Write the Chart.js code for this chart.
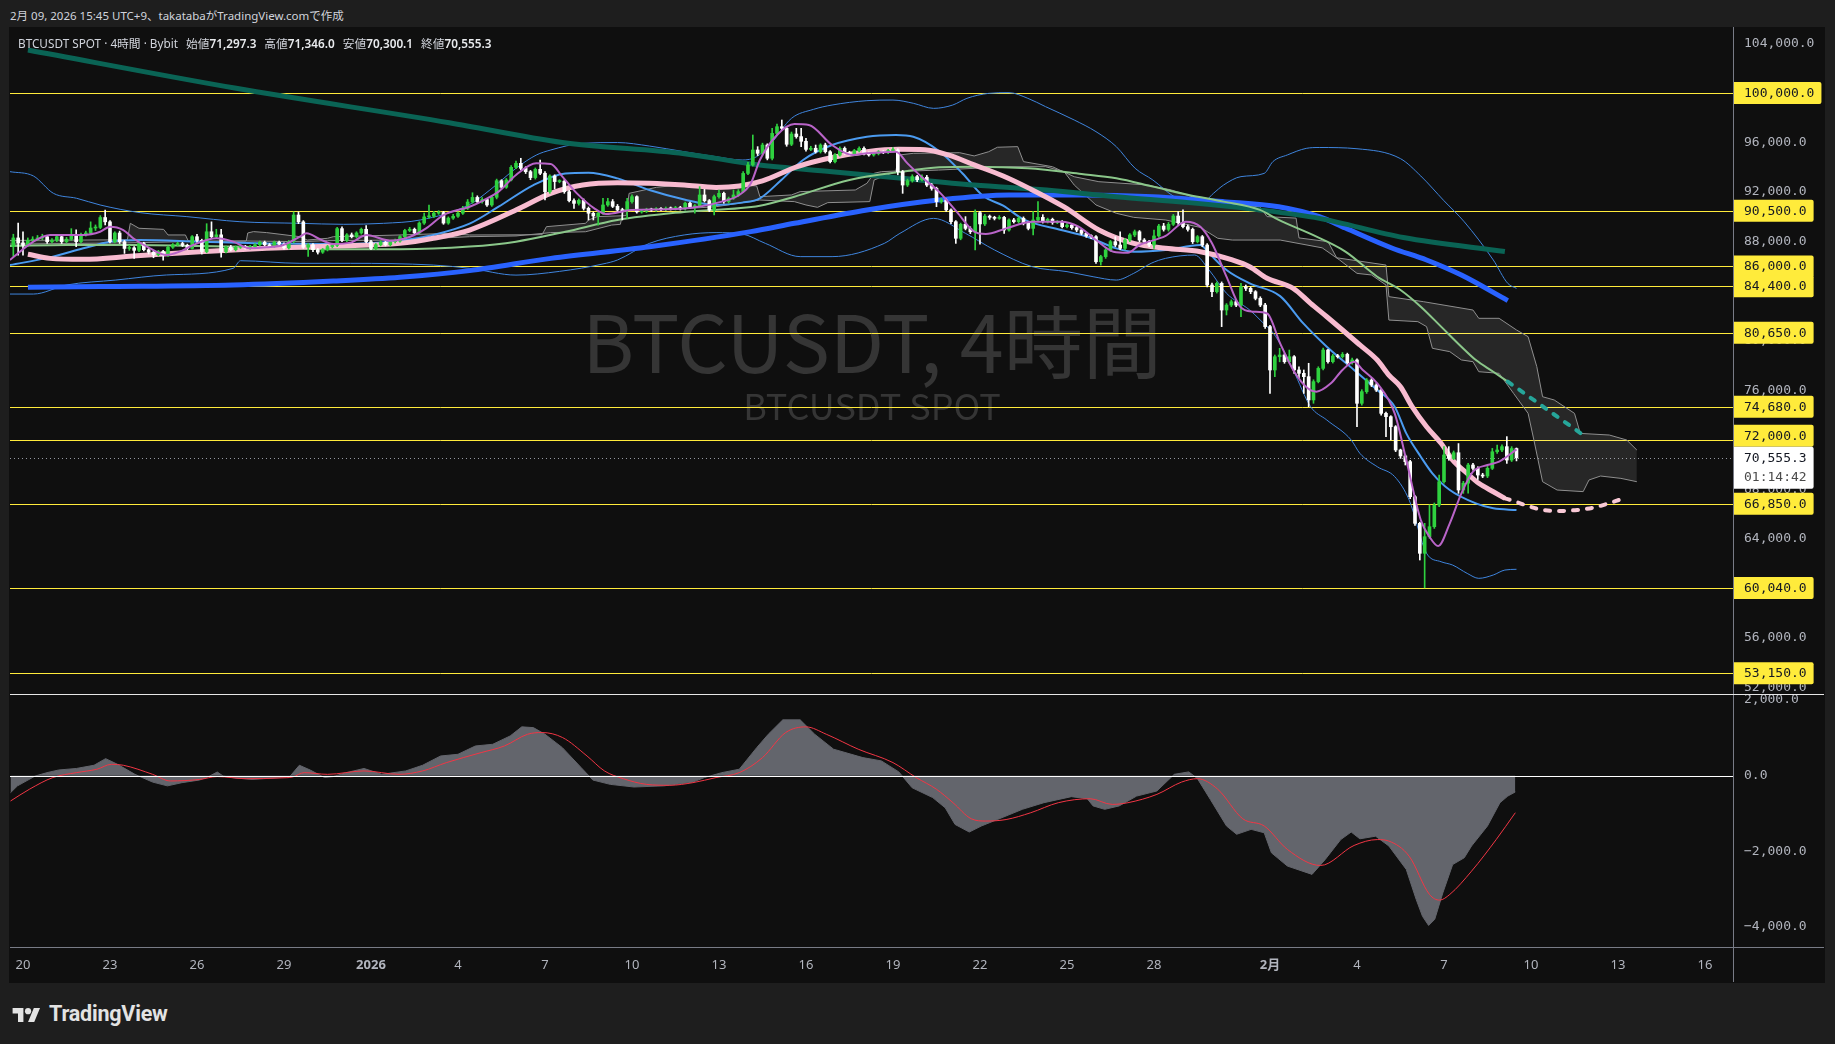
<!DOCTYPE html>
<html>
<head>
<meta charset="utf-8">
<title>BTCUSDT 4時間</title>
<script src="https://cdn.jsdelivr.net/npm/chart.js@4.4.1/dist/chart.umd.min.js"></script>
<style>
    html, body { margin: 0; padding: 0; width: 1835px; height: 1044px; background: #1e1e1e; overflow: hidden; }
    #hdr { position: absolute; left: 10px; top: 7px; font: 11.5px "Noto Sans", "Noto Sans CJK JP", sans-serif; color: #d1d4dc; }
    #frame { position: absolute; left: 9px; top: 27px; width: 1816px; height: 956px; background: #0f0f0f; }
    canvas { position: absolute; left: 0; }
    #chartPrice { top: 27px; }
    #chartOsc { top: 694px; }
    #legend { position: absolute; left: 18px; top: 34px; font: 11.75px "Noto Sans", "Noto Sans CJK JP", sans-serif; color: #d1d4dc; white-space: nowrap; z-index: 2; }
    #legend .k { margin-left: 8px; }
    #legend .v { font-weight: 600; color: #e8eaed; }
    #footer { position: absolute; left: 12px; top: 1001px; height: 24px; display: flex; align-items: center; color: #e3e3e3; font: bold 21.5px "Roboto", "Noto Sans", sans-serif; letter-spacing: -0.2px; }
    #footer svg { margin-right: 8px; }
</style>
</head>
<body>
<div id="hdr">2月 09, 2026 15:45 UTC+9、takatabaがTradingView.comで作成</div>
<div id="frame"></div>
<canvas id="chartPrice" width="1835" height="667"></canvas>
<canvas id="chartOsc" width="1835" height="289"></canvas>
<div id="legend">BTCUSDT SPOT · 4時間 · Bybit<span class="k">始値</span><span class="v" id="vO"></span><span class="k">高値</span><span class="v" id="vH"></span><span class="k">安値</span><span class="v" id="vL"></span><span class="k">終値</span><span class="v" id="vC"></span></div>
<div id="footer"><svg width="29" height="17" viewBox="0 0 36 22"><path d="M14 22H7V11H0V4h14v18zM28 22h-8l7.5-18h8L28 22z" fill="#e3e3e3"/><circle cx="20" cy="8" r="4" fill="#e3e3e3"/></svg>TradingView</div>

<script>
// x axis unit = days from 12/20 00:00 (UTC+9); one 4h bar = 1/6 day
var xMin = -0.448, xMax = 58.966;
var priceMin = 51483, priceMax = 105328;
var oscMin = -4530, oscMax = 2159;

var timeTicks = [0, 3, 6, 9, 12, 15, 18, 21, 24, 27, 30, 33, 36, 39, 43, 46, 49, 52, 55, 58];
var timeLabels = ['20', '23', '26', '29', '2026', '4', '7', '10', '13', '16', '19', '22', '25', '28', '2月', '4', '7', '10', '13', '16'];
var priceTicks = [52000, 56000, 60000, 64000, 68000, 72000, 76000, 80000, 84000, 88000, 92000, 96000, 100000, 104000];
var oscTicks = [2000, 0, -2000, -4000];
var levels = [100000, 90500, 86000, 84400, 80650, 74680, 72000, 66850, 60040, 53150];
var lastPrice = 70555.3;
var countdown = '01:14:42';
var watermarkTitle = 'BTCUSDT, 4時間';
var watermarkSub = 'BTCUSDT SPOT';

// candles: first bar = 12/19 16:00, open of each bar = previous close
var firstBar = -2;
var firstOpen = 87600;
var closes = [
    88300, 87900,
    87700, 88100, 88200, 88300, 88400, 88000,
    88100, 88400, 88000, 88200, 88550, 88000,
    88550, 88700, 89100, 89150, 89950, 89600,
    88000, 88700, 88000, 87450, 87500, 87300,
    87850, 87350, 87150, 86950, 87200, 86900,
    87550, 87750, 87850, 87700, 87450, 88400,
    88100, 87200, 88800, 88400, 88550, 87200,
    87550, 87350, 87550, 87600, 87500, 87600,
    87750, 87950, 87750, 87650, 87950, 87800,
    87500, 88000, 90150, 89600, 87550, 87750,
    87350, 87150, 87350, 87600, 87700, 89050,
    88100, 88550, 88400, 88700, 89000, 88000,
    87450, 87750, 87950, 87750, 88000, 88050,
    88400, 88900, 89000, 88700, 89500, 90000,
    90050, 90300, 90350, 89500, 89900, 90050,
    90300, 90700, 91200, 91570, 91230, 91400,
    90960, 91580, 92920, 92390, 92980, 94000,
    94320, 93920, 93650, 93170, 93840, 93520,
    92030, 93300, 92850, 92880, 92030, 91310,
    91090, 91330, 90690, 90290, 90070, 90290,
    90960, 91230, 90850, 90550, 90500, 91230,
    91630, 90400, 90450, 90600, 90550, 90650,
    90600, 90700, 90650, 90750, 90650, 91100,
    90800, 90900, 91770, 91310, 90550, 91630,
    91900, 91230, 91500, 91770, 92040, 93510,
    94190, 95400, 95130, 95800, 94730, 96740,
    97280, 97150, 95860, 96690, 96480, 96100,
    95450, 95540, 95260, 95800, 95260, 94460,
    94990, 95530, 95180, 95080, 95350, 95530,
    95130, 95000, 95100, 95260, 95200, 95350,
    95400, 93650, 92570, 92920, 93250, 93000,
    93200, 92570, 92300, 91230, 91360, 90560,
    89610, 88270, 89400, 89070, 88800, 90340,
    89430, 90060, 89960, 89880, 89960, 88940,
    89750, 89610, 89880, 89480, 89070, 89750,
    89960, 89610, 89800, 89530, 89600, 89210,
    89340, 89130, 88940, 88670, 88460, 88400,
    86380, 86790, 87330, 88000, 87730, 87460,
    88130, 88540, 88800, 88130, 88000, 87730,
    88460, 89260, 88990, 89400, 90070, 89530,
    89210, 88990, 88000, 88400, 87730, 84500,
    83960, 84630, 82480, 82880, 83150, 82880,
    84370, 84230, 83960, 83420, 82880, 81140,
    77640, 78710, 78850, 78310, 78710, 77640,
    77370, 77100, 75220, 76700, 77770, 79250,
    78310, 78770, 78710, 78900, 78230, 78450,
    74950, 75890, 76830, 76430, 76020, 74140,
    73870, 73060, 71180, 70700, 70240, 67410,
    65260, 62840, 64180, 64990, 66740, 68620,
    70780, 70500, 70960, 67950, 68500, 69970,
    69700, 69160, 69080, 69700, 71040, 71180,
    71450, 70370, 71297.3, 70555.3
];
var highs = [
    88600, 89500,
    88800, 88300, 88400, 88500, 88600, 88500,
    88250, 88550, 88500, 88350, 89050, 88950,
    88700, 88850, 89600, 89350, 90100, 90550,
    89700, 88800, 88850, 88100, 87700, 87600,
    87950, 87950, 87450, 87250, 87300, 87300,
    87650, 87850, 87950, 87950, 87800, 88500,
    88600, 88200, 89450, 89600, 89000, 89000,
    87650, 87700, 87650, 87700, 87700, 87700,
    87850, 88050, 88050, 87850, 88050, 88050,
    87900, 88100, 90400, 90400, 89700, 87850,
    87850, 87450, 87450, 87700, 87800, 89150,
    89200, 88650, 88700, 88800, 89100, 89300,
    88100, 87850, 88050, 88050, 88100, 88200,
    88500, 89000, 89150, 89100, 89600, 90300,
    90950, 90450, 90500, 90450, 90000, 90200,
    90400, 90850, 91400, 91950, 91700, 91550,
    91500, 91700, 93050, 93000, 93100, 94150,
    94500, 94730, 94050, 93750, 93950, 94590,
    93650, 93400, 93400, 93000, 93000, 92150,
    91450, 91450, 91450, 90800, 90400, 90400,
    91500, 91500, 91400, 91000, 90700, 91500,
    91770, 91700, 90600, 90700, 90700, 90750,
    90750, 90800, 90800, 90850, 90850, 91200,
    91200, 91000, 92440, 92220, 91400, 91750,
    92170, 92000, 91600, 92170, 92200, 93650,
    94400, 96610, 95670, 95950, 95900, 97150,
    97500, 97820, 97250, 96850, 97150, 97150,
    96350, 95700, 95800, 95900, 95950, 95350,
    95100, 95650, 95650, 95300, 95450, 95650,
    95650, 95250, 95200, 95350, 95350, 95450,
    95600, 95500, 93750, 93050, 93400, 93350,
    93400, 93350, 92700, 92400, 91500, 91450,
    90650, 89700, 89500, 90020, 89200, 90560,
    90450, 90200, 90150, 90050, 90100, 90050,
    89850, 89880, 90000, 90000, 89600, 90420,
    91230, 90180, 89900, 89900, 89700, 89700,
    89450, 89450, 89250, 89050, 88750, 88550,
    88500, 86900, 87450, 88100, 88400, 88800,
    88250, 88650, 88940, 88900, 88250, 88100,
    88940, 89400, 89480, 89550, 90200, 90420,
    90560, 89350, 89100, 88500, 88500, 87850,
    84650, 84750, 84750, 83000, 83300, 83250,
    84630, 84500, 84350, 84050, 83550, 83020,
    81250, 78850, 79390, 78950, 79250, 78800,
    77900, 77640, 78180, 76850, 77900, 79400,
    79300, 78900, 78900, 79050, 79000, 78600,
    78550, 76050, 76950, 76950, 76550, 76100,
    74250, 73950, 73150, 71250, 70800, 70350,
    67500, 65350, 65260, 66750, 66900, 69160,
    71450, 71450, 71100, 71700, 68650, 70100,
    70100, 69830, 69300, 69850, 71310, 71580,
    71600, 72260, 71450, 71346.0
];
var lows = [
    86800, 86900,
    86900, 87600, 88000, 88100, 88150, 87850,
    87900, 88000, 87850, 87900, 88100, 87600,
    87900, 88450, 88600, 88900, 89050, 89350,
    87900, 87900, 87850, 87050, 87300, 86650,
    87200, 87250, 87000, 86700, 86850, 86500,
    86800, 87450, 87650, 87600, 87350, 87400,
    87950, 87000, 87100, 88300, 88300, 86750,
    87100, 87250, 87250, 87450, 87400, 87400,
    87500, 87650, 87650, 87550, 87550, 87700,
    87400, 87400, 87900, 89450, 87450, 86800,
    87200, 87000, 87050, 87250, 87500, 87600,
    88000, 88000, 88300, 88300, 88600, 87900,
    87350, 87350, 87650, 87650, 87650, 87900,
    87950, 88300, 88800, 88600, 88600, 89400,
    89900, 89950, 90200, 89400, 89400, 89800,
    89950, 90200, 90600, 91100, 91100, 91100,
    90850, 90850, 91450, 92250, 92300, 92900,
    93900, 93800, 93500, 93000, 93050, 93400,
    91360, 91900, 92250, 92750, 91900, 91200,
    90690, 90950, 90550, 89750, 89750, 89340,
    90200, 90850, 90750, 90400, 89750, 89880,
    91100, 90300, 90300, 90350, 90450, 90450,
    90500, 90500, 90550, 90550, 90550, 90550,
    90700, 90300, 90800, 91200, 90420, 90150,
    91500, 91100, 91100, 91400, 91650, 91950,
    93400, 94100, 94950, 95000, 94600, 94600,
    96600, 97000, 95700, 95750, 96350, 95670,
    95300, 95350, 95150, 95150, 95150, 94350,
    94350, 94900, 95050, 94950, 94950, 95250,
    95000, 94900, 94900, 95000, 95100, 95100,
    95250, 93400, 91900, 92450, 92800, 92850,
    92900, 92450, 92150, 90820, 91100, 90450,
    89450, 87860, 88150, 88950, 88650, 87330,
    87800, 89300, 89800, 89750, 89800, 88670,
    88850, 89500, 89500, 89350, 88950, 88540,
    89650, 89500, 89500, 89400, 89450, 89100,
    89100, 89000, 88800, 88550, 88350, 88250,
    86250, 86110, 86650, 87200, 87600, 87350,
    87350, 88000, 88400, 88000, 87900, 87600,
    87460, 88350, 88850, 88850, 89300, 89400,
    89100, 88850, 87850, 87900, 87600, 84350,
    83560, 83850, 81140, 82080, 82750, 82750,
    81950, 84050, 83800, 83300, 82750, 81000,
    75750, 77100, 78300, 78180, 78200, 77370,
    76960, 75750, 74680, 74950, 76600, 77650,
    78200, 78200, 78600, 78600, 78100, 78100,
    73060, 74800, 75750, 76300, 75900, 74000,
    72260, 72000, 71050, 70500, 69970, 67250,
    65100, 62300, 60050, 64050, 64850, 66600,
    68500, 70350, 70400, 67680, 67680, 67700,
    69550, 68800, 68950, 68950, 69600, 70900,
    71050, 70100, 70250, 70300.1
];

// indicator lines: [day, price]
var tealMA = [[0.17, 103470], [7.3, 100400], [14.7, 97600], [18.6, 96000], [22.8, 95100], [25.4, 94190], [27.9, 93650], [30.3, 93110], [32.8, 92570], [35.3, 92170], [37.7, 91630], [40.2, 91150], [42.65, 90560], [44.7, 89880], [47.6, 88330], [51.1, 87200]];
var blueMA = [[0.17, 84310], [2.66, 84370], [7.25, 84500], [10.7, 84820], [13.0, 85120], [15.4, 85660], [18.2, 86650], [21.6, 87590], [25.1, 88810], [26.6, 89480], [29.1, 90560], [31.57, 91360], [34.0, 91770], [36.5, 91770], [38.96, 91630], [41.4, 91230], [43.3, 90820], [44.7, 90020], [45.6, 89100], [47.2, 87490], [48.4, 86520], [49.6, 85300], [51.2, 83240]];
var greenMA = [[-0.45, 87650], [1.5, 87730], [3.8, 87730], [6.1, 87650], [8.4, 87540], [10.7, 87380], [13.0, 87380], [15.4, 87600], [17.0, 88000], [18.7, 88800], [20.5, 89750], [22.8, 90400], [25.41, 90900], [26.6, 91630], [28.5, 92980], [30.3, 93650], [31.6, 94000], [32.8, 94050], [34.65, 93920], [36.5, 93460], [37.7, 93110], [38.96, 92440], [40.2, 91770], [41.4, 91230], [42.65, 90560], [43.3, 89750], [44.4, 88620], [45.6, 87200], [46.7, 85170], [47.5, 84100], [48.2, 82750], [48.9, 81140], [49.6, 79520], [50.1, 78440], [50.7, 77500], [51.2, 76700]];
var greenProj = [[51.2, 76700], [53.75, 72470]];
var pinkMA = [[0.17, 86980], [0.93, 86650], [2.08, 86570], [3.8, 86840], [6.1, 87190], [8.4, 87460], [10.7, 87650], [13.0, 87860], [14.15, 88270], [15.4, 88940], [17.0, 90550], [18.2, 91900], [19.3, 92570], [20.5, 92760], [21.6, 92710], [22.8, 92570], [23.9, 92380], [24.7, 92490], [25.5, 92900], [26.7, 94050], [27.9, 94790], [29.1, 95260], [30.2, 95450], [31.1, 95420], [31.9, 95000], [32.8, 94200], [33.8, 93300], [34.7, 92300], [35.9, 90800], [37.1, 88940], [38.3, 87860], [39.4, 87460], [40.6, 87190], [41.7, 86520], [42.3, 85980], [42.9, 85040], [43.8, 84230], [44.4, 83020], [44.96, 81940], [45.5, 80870], [46.1, 79660], [46.7, 78440], [47.1, 77230], [47.5, 76290], [47.9, 74680], [48.4, 73060], [48.9, 71720], [49.3, 70370], [49.8, 69290], [50.2, 68490], [50.7, 67810], [51.1, 67280]];
var pinkProj = [[51.1, 67280], [51.3, 67140], [51.9, 66660], [52.4, 66340], [53.0, 66260], [53.6, 66340], [54.2, 66550], [54.6, 66820], [55.1, 67200]];
var purpleMA = [[-0.45, 86520], [0.36, 88000], [0.93, 88540], [2.08, 88540], [2.66, 88800], [3.0, 89210], [3.46, 88940], [3.8, 88270], [4.38, 87460], [4.95, 86920], [5.4, 87190], [5.87, 87730], [6.68, 88270], [7.25, 88000], [7.8, 87460], [8.4, 87540], [8.98, 87730], [9.55, 88400], [9.78, 88670], [10.24, 88190], [10.7, 87810], [11.3, 87920], [11.85, 88540], [12.65, 88080], [13.35, 88400], [13.9, 89070], [14.5, 90150], [15.4, 90820], [15.9, 91360], [16.4, 92040], [17.0, 93380], [17.7, 94320], [18.2, 94270], [18.6, 93250], [19.1, 91900], [19.7, 90690], [20.1, 90230], [21.0, 90550], [22.2, 90610], [23.3, 90820], [24.1, 91230], [24.7, 91770], [25.1, 92710], [25.41, 94590], [26.0, 96610], [26.6, 97500], [27.1, 97420], [27.9, 95800], [28.6, 95000], [29.1, 95130], [30.1, 95260], [30.5, 94320], [31.0, 93200], [31.6, 92000], [32.2, 90400], [32.8, 88810], [33.2, 88620], [33.9, 89070], [34.8, 89610], [35.8, 89610], [36.4, 89210], [37.0, 88130], [37.6, 87190], [38.1, 87110], [38.5, 87730], [39.4, 88460], [40.1, 89610], [40.6, 89210], [41.0, 87870], [41.5, 85170], [41.97, 82750], [42.4, 82350], [42.9, 82200], [43.35, 79790], [43.8, 77640], [44.3, 76160], [44.6, 75890], [45.1, 76560], [45.5, 77640], [45.9, 78310], [46.2, 77640], [46.7, 76560], [47.3, 74140], [47.7, 70370], [48.2, 65530], [48.5, 64180], [48.8, 63430], [49.2, 65260], [49.6, 67680], [50.0, 69430], [50.5, 69970], [50.9, 70240], [51.5, 71230]];
var bbUpper = [[-0.45, 93650], [0.36, 93300], [1.05, 91900], [1.85, 91500], [2.66, 90960], [4.04, 90340], [5.65, 90020], [7.48, 89610], [9.55, 89480], [11.05, 89400], [12.43, 89480], [13.7, 89750], [15.4, 91000], [16.1, 92170], [17.0, 93920], [17.7, 94990], [18.2, 95400], [19.3, 95940], [20.5, 96000], [21.6, 95720], [22.8, 95260], [23.9, 94860], [24.8, 94590], [25.3, 94860], [25.8, 95940], [26.5, 97955], [27.26, 98680], [27.9, 99030], [29.1, 99380], [30.0, 99430], [30.7, 99170], [31.4, 98760], [32.06, 99030], [32.55, 99570], [33.3, 99970], [34.0, 100030], [34.65, 99570], [35.26, 98900], [36.25, 97820], [37.0, 96880], [37.7, 95670], [38.35, 93920], [38.96, 92980], [39.7, 91630], [40.2, 91230], [40.7, 91230], [41.05, 91900], [41.4, 92570], [42.0, 93250], [42.8, 93510], [43.1, 94460], [43.6, 95000], [44.25, 95530], [44.7, 95600], [46.0, 95500], [47.5, 94700], [48.2, 93300], [49.0, 91300], [49.7, 89600], [50.7, 86520], [51.2, 84630], [51.5, 84230]];
var bbLower = [[-0.45, 83770], [0.36, 83770], [1.5, 84500], [3.2, 84900], [4.95, 85310], [7.25, 85850], [7.5, 86460], [9.55, 86250], [11.3, 86250], [14.15, 86110], [15.4, 85850], [17.0, 85300], [18.5, 85600], [20.0, 86200], [20.5, 86520], [21.6, 87860], [22.8, 88540], [23.9, 88730], [24.8, 88620], [25.6, 87860], [26.8, 86790], [27.9, 86790], [29.7, 87860], [30.24, 88670], [31.4, 89880], [32.5, 88670], [33.5, 87330], [34.8, 85980], [36.0, 85580], [36.9, 85170], [37.7, 84900], [38.3, 85440], [38.9, 86250], [39.4, 86650], [40.4, 86920], [40.9, 85710], [41.5, 83830], [42.3, 82480], [42.66, 81680], [43.2, 80330], [43.8, 77640], [44.4, 74680], [44.96, 73600], [45.8, 71990], [46.1, 70910], [46.7, 69830], [47.3, 69030], [47.8, 67140], [48.4, 62840], [48.9, 62160], [49.3, 61890], [49.8, 61220], [50.2, 60820], [50.7, 61090], [51.1, 61490], [51.5, 61550]];
var bbBasis = [[-0.45, 86110], [0.93, 86730], [2.08, 87460], [3.0, 88000], [4.04, 88130], [6.1, 88000], [8.4, 87860], [10.7, 87810], [13.0, 88080], [14.15, 88540], [15.4, 89450], [16.4, 90820], [17.6, 92570], [18.7, 93510], [19.5, 93570], [20.5, 93110], [21.6, 92170], [22.8, 91410], [23.9, 90960], [24.8, 91150], [25.41, 91500], [26.15, 92980], [26.9, 94590], [27.9, 95800], [29.1, 96475], [30.1, 96610], [30.7, 96475], [31.6, 95300], [32.4, 93500], [33.1, 91700], [33.8, 90900], [34.5, 89800], [35.8, 88940], [36.7, 88400], [37.7, 87460], [38.3, 87190], [39.4, 87330], [40.6, 87730], [40.9, 87060], [41.5, 85710], [42.3, 84630], [43.35, 83600], [44.15, 81400], [44.96, 79520], [45.9, 77640], [46.7, 76020], [47.3, 74680], [47.7, 72520], [48.2, 70640], [48.6, 69300], [49.2, 67950], [50.1, 66870], [50.7, 66470], [51.5, 66330]];
var cloudTop = [[-0.45, 88100], [3.6, 88150], [3.7, 89480], [4.0, 89080], [4.85, 88990], [5.0, 88540], [5.6, 88540], [5.7, 88050], [7.7, 88050], [7.75, 88700], [7.95, 88810], [8.4, 88730], [9.55, 88400], [9.8, 88130], [10.5, 88270], [10.7, 88400], [13.0, 88540], [14.7, 88670], [15.4, 88540], [17.9, 88560], [18.05, 89210], [19.4, 89480], [19.5, 89750], [19.8, 90020], [20.8, 90100], [20.9, 91900], [21.85, 92390], [22.3, 92490], [23.5, 92440], [24.8, 92570], [25.3, 92500], [25.41, 91630], [26.5, 91770], [26.8, 92040], [28.7, 92170], [29.1, 92710], [29.35, 93520], [29.6, 93650], [30.1, 93700], [30.2, 94990], [30.7, 95130], [32.3, 95180], [32.8, 94920], [33.3, 95260], [33.6, 95620], [34.3, 95670], [34.5, 94460], [35.5, 94050], [36.25, 93240], [37.1, 92840], [38.8, 92570], [39.6, 92170], [41.2, 90960], [42.65, 90820], [42.9, 90020], [43.9, 89900], [44.0, 88300], [45.0, 88000], [45.3, 86700], [47.0, 86110], [47.1, 83560], [48.3, 83150], [50.0, 82480], [50.2, 81810], [50.9, 81810], [51.5, 80870], [51.9, 80330], [52.2, 77910], [52.4, 75480], [52.8, 75220], [53.5, 74140], [53.7, 72520], [54.7, 72390], [55.3, 71990], [55.65, 71180]];
var cloudBottom = [[-0.45, 87800], [3.6, 87900], [5.6, 88000], [7.7, 88050], [9.55, 88000], [10.5, 88080], [13.0, 88130], [15.4, 88400], [17.0, 88460], [18.2, 88730], [19.4, 88800], [20.3, 89340], [20.6, 89400], [20.7, 90550], [22.8, 90660], [23.9, 90820], [25.41, 91360], [26.6, 91230], [27.0, 90960], [27.4, 90770], [27.75, 91150], [29.2, 91230], [29.35, 92980], [30.1, 93650], [31.57, 93780], [34.0, 94050], [35.26, 94050], [35.9, 93650], [36.25, 92570], [37.0, 90960], [37.7, 90290], [38.3, 89960], [39.4, 89750], [40.6, 89150], [41.2, 88270], [41.7, 88130], [43.35, 88130], [44.8, 87500], [45.4, 86520], [46.0, 85440], [46.5, 85310], [47.0, 84500], [47.1, 81670], [48.1, 81540], [48.4, 81140], [48.6, 79390], [49.2, 79120], [49.6, 78450], [50.0, 78310], [50.2, 77500], [50.9, 77370], [51.4, 75750], [51.9, 74140], [52.1, 71990], [52.4, 68620], [52.9, 67950], [53.8, 67820], [54.0, 68760], [54.4, 69080], [55.1, 68890], [55.65, 68620]];

// oscillator: [day, value]
var macd = [[-0.43, -450], [-0.19, -270], [0.42, -10], [0.83, 80], [1.23, 150], [1.84, 190], [2.45, 275], [2.85, 450], [3.26, 300], [3.86, 35], [4.47, -170], [4.98, -270], [5.48, -185], [6.09, -115], [6.4, -25], [6.7, 97], [6.9, -10], [7.3, -60], [7.9, -100], [8.7, -60], [9.2, -25], [9.53, 275], [9.9, 150], [10.4, -50], [10.7, -25], [11.15, 80], [11.76, 190], [12.37, 35], [13.2, 125], [13.78, 275], [14.4, 520], [15.0, 565], [15.6, 785], [16.2, 830], [16.8, 1050], [17.2, 1290], [17.6, 1270], [18.0, 1095], [18.6, 740], [19.25, 210], [19.65, -115], [20.25, -230], [21.07, -300], [22.1, -270], [23.1, -170], [23.5, -50], [24.1, 80], [24.7, 170], [25.3, 740], [25.7, 1095], [26.2, 1475], [26.8, 1475], [27.3, 1095], [27.95, 700], [28.96, 477], [29.6, 390], [30.2, 100], [30.66, -320], [31.37, -580], [31.8, -850], [32.14, -1290], [32.63, -1490], [33.05, -1330], [33.6, -1160], [34.46, -890], [35.2, -715], [36.15, -555], [36.7, -610], [36.9, -800], [37.3, -890], [37.8, -800], [38.4, -540], [39.1, -405], [39.7, 35], [40.2, 100], [40.5, -80], [40.94, -625], [41.5, -1330], [41.85, -1550], [42.35, -1420], [42.8, -1510], [43.05, -2040], [43.6, -2390], [44.45, -2610], [44.9, -2220], [45.44, -1690], [45.8, -1490], [46.1, -1670], [46.64, -1600], [47.1, -1860], [47.7, -2480], [48.04, -3270], [48.26, -3720], [48.47, -3960], [48.68, -3800], [48.96, -3100], [49.3, -2350], [49.7, -2170], [49.95, -1860], [50.5, -1330], [50.93, -715], [51.2, -540], [51.46, -430]];
var signal = [[-0.43, -670], [0.22, -360], [1.03, -50], [1.84, 80], [2.55, 170], [3.05, 300], [3.46, 275], [4.47, 35], [5.08, -140], [6.09, -100], [6.7, -25], [7.7, -80], [8.9, -60], [9.3, -35], [9.7, 80], [10.5, 35], [11.76, 125], [12.97, 35], [13.78, 125], [14.6, 345], [15.8, 610], [16.6, 785], [17.4, 1095], [17.9, 1140], [18.6, 1010], [19.45, 520], [20.05, 125], [20.7, -80], [21.5, -230], [22.3, -255], [23.1, -185], [23.9, -50], [24.7, 80], [25.5, 477], [26.3, 1140], [27.0, 1290], [27.7, 1095], [28.8, 700], [30.0, 345], [30.8, -50], [31.5, -360], [32.07, -715], [32.7, -1140], [33.2, -1200], [33.9, -1160], [34.75, -980], [35.7, -715], [36.8, -610], [37.56, -760], [38.1, -715], [39.1, -495], [39.95, -170], [40.5, -80], [41.2, -360], [42.06, -1140], [42.8, -1330], [43.6, -1950], [44.74, -2375], [45.9, -1845], [46.7, -1690], [47.1, -1730], [47.8, -2130], [48.5, -3140], [48.85, -3290], [49.2, -3140], [49.95, -2525], [50.8, -1690], [51.46, -980]];

var axisFont = '"DejaVu Sans Mono", monospace';
var textFont = '"Noto Sans", "Noto Sans CJK JP", sans-serif';

function fmt(v) {
    var s = Math.abs(v).toLocaleString('en-US', { minimumFractionDigits: 1, maximumFractionDigits: 1 });
    return v < 0 ? '\u2212' + s : s;
}

function pts(arr) {
    return arr.map(function (p) { return { x: p[0], y: p[1] }; });
}

function lineSet(arr, color, width, order, extra) {
    return Object.assign({
        type: 'line',
        data: pts(arr),
        borderColor: color,
        borderWidth: width,
        pointRadius: 0,
        fill: false,
        cubicInterpolationMode: 'monotone',
        order: order
    }, extra || {});
}

// candles
var opens = [], barX = [];
for (var i = 0; i < closes.length; i++) {
    opens.push(i === 0 ? firstOpen : closes[i - 1]);
    barX.push((firstBar + i) / 6);
}
var n = closes.length;
document.getElementById('vO').textContent = fmt(opens[n - 1]);
document.getElementById('vH').textContent = fmt(highs[n - 1]);
document.getElementById('vL').textContent = fmt(lows[n - 1]);
document.getElementById('vC').textContent = fmt(closes[n - 1]);

var barColors = closes.map(function (c, i) { return c >= opens[i] ? '#2fd13f' : '#ffffff'; });
var bodyData = closes.map(function (c, i) { return { x: barX[i], y: [opens[i], c] }; });
var wickData = closes.map(function (c, i) {
    return { x: barX[i], y: [Math.min(lows[i], opens[i], c), Math.max(highs[i], opens[i], c)] };
});

function noPad(s) { s.paddingTop = 0; s.paddingBottom = 0; s.paddingLeft = 0; s.paddingRight = 0; }

var pricePane = {
    id: 'pricePane',
    beforeDatasetsDraw: function (chart) {
        var ctx = chart.ctx, a = chart.chartArea, y = chart.scales.y;
        ctx.save();
        ctx.beginPath();
        ctx.rect(a.left, a.top, a.right - a.left, a.bottom - a.top);
        ctx.clip();

        ctx.fillStyle = '#353535';
        ctx.textAlign = 'center';
        ctx.textBaseline = 'middle';
        ctx.font = '80px "Noto Sans CJK JP", sans-serif';
        var size = 80 * 580 / ctx.measureText(watermarkTitle).width;
        ctx.font = size.toFixed(1) + 'px "Noto Sans CJK JP", sans-serif';
        ctx.fillText(watermarkTitle, 872, 316);
        ctx.font = '36px "Noto Sans CJK JP", sans-serif';
        ctx.fillText(watermarkSub, 872, 379);

        ctx.strokeStyle = '#ffeb3b';
        ctx.lineWidth = 1;
        levels.forEach(function (v) {
            var py = Math.round(y.getPixelForValue(v)) + 0.5;
            ctx.beginPath();
            ctx.moveTo(a.left, py);
            ctx.lineTo(a.right, py);
            ctx.stroke();
        });

        var ly = Math.round(y.getPixelForValue(lastPrice)) + 0.5;
        ctx.strokeStyle = '#9598a1';
        ctx.setLineDash([1, 3]);
        ctx.beginPath();
        ctx.moveTo(a.left, ly);
        ctx.lineTo(a.right, ly);
        ctx.stroke();
        ctx.restore();
    },
    afterDraw: function (chart) {
        var ctx = chart.ctx, a = chart.chartArea, y = chart.scales.y;
        ctx.save();
        ctx.fillStyle = '#787b86';
        ctx.fillRect(a.right, 0, 1, chart.height);

        ctx.font = '13px ' + axisFont;
        ctx.textAlign = 'left';
        ctx.textBaseline = 'middle';
        var ly = y.getPixelForValue(lastPrice);
        var lastTop = ly - 11;
        levels.forEach(function (v) {
            var top = y.getPixelForValue(v) - 11;
            if (top < lastTop && top + 22 > lastTop) top = lastTop - 22;
            var txt = fmt(v);
            var w = ctx.measureText(txt).width + 17;
            ctx.fillStyle = '#ffeb3b';
            ctx.beginPath();
            ctx.roundRect(a.right + 1, top, w, 22, [0, 2, 2, 0]);
            ctx.fill();
            ctx.fillStyle = '#131722';
            ctx.fillText(txt, a.right + 11, top + 11.5);
        });

        var txt = fmt(lastPrice);
        var bw = ctx.measureText(txt).width + 17;
        ctx.fillStyle = '#ffffff';
        ctx.beginPath();
        ctx.roundRect(a.right + 1, lastTop, bw, 42, [0, 2, 2, 0]);
        ctx.fill();
        ctx.fillStyle = '#131722';
        ctx.fillText(txt, a.right + 11, ly + 0.5);
        ctx.fillStyle = '#4a4a4a';
        ctx.fillText(countdown, a.right + 11, ly + 20);
        ctx.restore();
    }
};

var oscPane = {
    id: 'oscPane',
    afterDatasetsDraw: function (chart) {
        var ctx = chart.ctx, a = chart.chartArea;
        var zy = Math.round(chart.scales.y.getPixelForValue(0));
        ctx.save();
        ctx.fillStyle = '#ffffff';
        ctx.fillRect(a.left, zy, a.right - a.left, 1);
        ctx.restore();
    },
    afterDraw: function (chart) {
        var ctx = chart.ctx, a = chart.chartArea;
        ctx.save();
        ctx.fillStyle = '#787b86';
        ctx.fillRect(a.right, 0, 1, chart.height - 1);
        ctx.fillRect(a.left, a.bottom, 1814, 1);
        ctx.fillStyle = '#e6e6e6';
        ctx.fillRect(a.left, 0, 1814, 1);
        ctx.restore();
    }
};

new Chart(document.getElementById('chartPrice').getContext('2d'), {
    type: 'line',
    data: {
        datasets: [
            lineSet(cloudBottom, '#8f8f8f', 1, 90, { cubicInterpolationMode: 'default', tension: 0 }),
            lineSet(cloudTop, '#8f8f8f', 1, 90, { cubicInterpolationMode: 'default', tension: 0, fill: '-1', backgroundColor: 'rgba(255,255,255,0.1)' }),
            lineSet(bbUpper, '#3f85de', 1, 80),
            lineSet(bbLower, '#3f85de', 1, 80),
            lineSet(bbBasis, '#4b9bf0', 2, 79),
            lineSet(blueMA, '#2962ff', 5, 69),
            lineSet(tealMA, '#0a6455', 5, 68),
            lineSet(greenMA, '#8bc78a', 2, 60),
            lineSet(pinkMA, '#f8bbd0', 5, 50),
            {
                type: 'bar',
                data: wickData,
                backgroundColor: barColors,
                barThickness: 1,
                grouped: false,
                order: 41
            },
            {
                type: 'bar',
                data: bodyData,
                backgroundColor: barColors,
                barThickness: 3,
                minBarLength: 1,
                grouped: false,
                order: 40
            },
            lineSet(purpleMA, '#b964c8', 2, 30),
            lineSet(greenProj, '#26a69a', 4, 20, { borderDash: [5, 9], borderCapStyle: 'round', cubicInterpolationMode: 'default' }),
            lineSet(pinkProj, '#f9c9d6', 4, 20, { borderDash: [5, 9], borderCapStyle: 'round' })
        ]
    },
    options: {
        responsive: false,
        animation: false,
        devicePixelRatio: 1,
        events: [],
        layout: { padding: { left: 10, right: 11, top: 0, bottom: 0 } },
        plugins: { legend: { display: false }, tooltip: { enabled: false } },
        scales: {
            x: { type: 'linear', min: xMin, max: xMax, bounds: 'data', offset: false, display: false, afterFit: noPad },
            y: {
                type: 'linear',
                position: 'right',
                min: priceMin,
                max: priceMax,
                bounds: 'data',
                afterFit: function (s) { s.width = 91; noPad(s); },
                afterBuildTicks: function (s) { s.ticks = priceTicks.map(function (v) { return { value: v }; }); },
                grid: { display: false, drawTicks: false },
                border: { display: false },
                ticks: {
                    autoSkip: false,
                    padding: 11,
                    color: '#b2b5be',
                    font: { family: axisFont, size: 13 },
                    callback: function (v) { return fmt(v); }
                }
            }
        }
    },
    plugins: [pricePane]
});

new Chart(document.getElementById('chartOsc').getContext('2d'), {
    type: 'line',
    data: {
        datasets: [
            {
                data: pts(macd),
                borderColor: '#63656c',
                backgroundColor: '#63656c',
                borderWidth: 1,
                fill: 'origin',
                pointRadius: 0,
                tension: 0,
                order: 2
            },
            {
                data: pts(signal),
                borderColor: '#f23645',
                borderWidth: 1,
                fill: false,
                pointRadius: 0,
                cubicInterpolationMode: 'monotone',
                order: 1
            }
        ]
    },
    options: {
        responsive: false,
        animation: false,
        devicePixelRatio: 1,
        events: [],
        layout: { padding: { left: 10, right: 11, top: 0, bottom: 0 } },
        plugins: { legend: { display: false }, tooltip: { enabled: false } },
        scales: {
            x: {
                type: 'linear',
                min: xMin,
                max: xMax,
                bounds: 'data',
                offset: false,
                afterFit: function (s) { s.height = 36; noPad(s); },
                afterBuildTicks: function (s) { s.ticks = timeTicks.map(function (v) { return { value: v }; }); },
                grid: { display: false, drawTicks: false },
                border: { display: false },
                ticks: {
                    autoSkip: false,
                    maxRotation: 0,
                    padding: 10,
                    color: '#b2b5be',
                    font: function (c) {
                        var lab = timeLabels[c.index];
                        return { family: textFont, size: 13, weight: (lab === '2026' || lab === '2月') ? 'bold' : 'normal' };
                    },
                    callback: function (v, i) { return timeLabels[i]; }
                }
            },
            y: {
                type: 'linear',
                position: 'right',
                min: oscMin,
                max: oscMax,
                bounds: 'data',
                afterFit: function (s) { s.width = 91; noPad(s); },
                afterBuildTicks: function (s) { s.ticks = oscTicks.map(function (v) { return { value: v }; }); },
                grid: { display: false, drawTicks: false },
                border: { display: false },
                ticks: {
                    autoSkip: false,
                    padding: 11,
                    color: '#b2b5be',
                    font: { family: axisFont, size: 13 },
                    callback: function (v) { return fmt(v); }
                }
            }
        }
    },
    plugins: [oscPane]
});
</script>
</body>
</html>
